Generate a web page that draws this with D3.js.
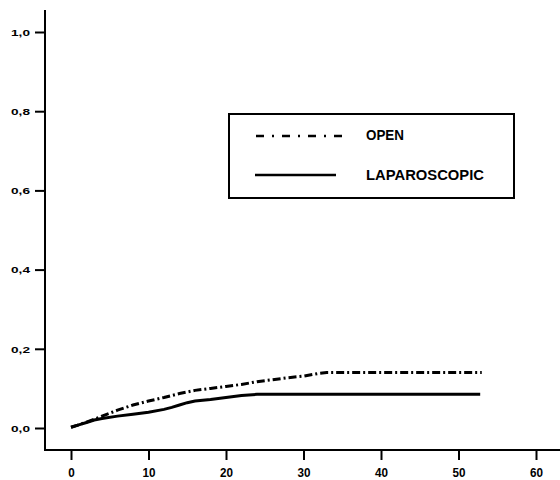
<!DOCTYPE html>
<html>
<head>
<meta charset="utf-8">
<script src="https://cdn.jsdelivr.net/npm/d3@7"></script>
<style>
  html, body { margin: 0; padding: 0; background: #fff; }
  svg { display: block; }
  text { font-family: "Liberation Sans", Arial, sans-serif; font-weight: bold; fill: #000; }
</style>
</head>
<body>
<svg id="chart" width="560" height="480"></svg>
<script>
// ---- data ----
const openTime = [0, 1, 2, 3, 4, 6, 8, 10, 12, 14, 16, 18, 20, 22, 24, 26, 28, 30, 32, 33, 53];
const openValue = [0.002, 0.008, 0.015, 0.022, 0.03, 0.045, 0.058, 0.068, 0.077, 0.087, 0.095, 0.1, 0.105, 0.11, 0.117, 0.122, 0.127, 0.131, 0.138, 0.14, 0.14];
const lapTime = [0, 1, 2, 3, 4, 6, 8, 10, 12, 13, 14, 15, 16, 18, 20, 22, 24, 52.8];
const lapValue = [0.002, 0.008, 0.014, 0.02, 0.024, 0.03, 0.035, 0.04, 0.047, 0.052, 0.058, 0.064, 0.068, 0.072, 0.077, 0.082, 0.085, 0.085];
const xTicks = [0, 10, 20, 30, 40, 50, 60];
const yTicks = [0, 0.2, 0.4, 0.6, 0.8, 1.0];
const yTickLabels = ["0,0", "0,2", "0,4", "0,6", "0,8", "1,0"];
const seriesNames = ["OPEN", "LAPAROSCOPIC"];

const svg = d3.select("#chart");
const x = d3.scaleLinear().domain([0, 60]).range([71, 536]);
const y = d3.scaleLinear().domain([0, 1]).range([428, 32]);

// axis lines
svg.append("line").attr("x1", 45).attr("x2", 45).attr("y1", 10).attr("y2", 451)
  .attr("stroke", "#000").attr("stroke-width", 2);
svg.append("line").attr("x1", 44).attr("x2", 560).attr("y1", 450).attr("y2", 450)
  .attr("stroke", "#000").attr("stroke-width", 2);

// y axis
const yAxis = d3.axisLeft(y).tickValues(yTicks).tickSize(10).tickPadding(5)
  .tickFormat((d, i) => yTickLabels[i]);
const gy = svg.append("g").attr("transform", "translate(45,0)").call(yAxis);
gy.select(".domain").remove();
gy.selectAll(".tick line").attr("stroke", "#000").attr("stroke-width", 2);
gy.selectAll(".tick text").attr("font-size", 9.5).attr("textLength", 19)
  .attr("lengthAdjust", "spacingAndGlyphs").attr("dy", "0.35em")
  .style("font-family", '"Liberation Sans", Arial, sans-serif').style("font-weight", "bold");

// x axis
const xAxis = d3.axisBottom(x).tickValues(xTicks).tickSize(10).tickPadding(7)
  .tickFormat(d3.format("d"));
const gx = svg.append("g").attr("transform", "translate(0,450)").call(xAxis);
gx.select(".domain").remove();
gx.selectAll(".tick line").attr("stroke", "#000").attr("stroke-width", 2);
gx.selectAll(".tick text").attr("font-size", 13.5)
  .each(function (d) {
    const s = String(d);
    d3.select(this).attr("textLength", s.length === 1 ? 6.5 : 13).attr("lengthAdjust", "spacingAndGlyphs");
  })
  .style("font-family", '"Liberation Sans", Arial, sans-serif').style("font-weight", "bold");

// curves
const line = d3.line().x(d => x(d[0])).y(d => y(d[1]));
const openData = openTime.map((t, i) => [t, openValue[i]]);
const lapData = lapTime.map((t, i) => [t, lapValue[i]]);

svg.append("path").datum(lapData).attr("d", line)
  .attr("fill", "none").attr("stroke", "#000").attr("stroke-width", 3);
svg.append("path").datum(openData).attr("d", line)
  .attr("fill", "none").attr("stroke", "#000").attr("stroke-width", 3)
  .attr("stroke-dasharray", "8,3,2,3");

// legend
const lg = svg.append("g");
lg.append("rect").attr("x", 229).attr("y", 114).attr("width", 285).attr("height", 84)
  .attr("fill", "#fff").attr("stroke", "#000").attr("stroke-width", 2);
lg.append("line").attr("x1", 256).attr("x2", 348).attr("y1", 136).attr("y2", 136)
  .attr("stroke", "#000").attr("stroke-width", 2.5).attr("stroke-dasharray", "8,8,2,8");
lg.append("line").attr("x1", 255).attr("x2", 336).attr("y1", 175).attr("y2", 175)
  .attr("stroke", "#000").attr("stroke-width", 2.5);
lg.append("text").attr("x", 366).attr("y", 140).attr("font-size", 14)
  .attr("textLength", 38).attr("lengthAdjust", "spacingAndGlyphs").text(seriesNames[0]);
lg.append("text").attr("x", 366).attr("y", 180).attr("font-size", 14)
  .attr("textLength", 118).attr("lengthAdjust", "spacingAndGlyphs").text(seriesNames[1]);
</script>
</body>
</html>
